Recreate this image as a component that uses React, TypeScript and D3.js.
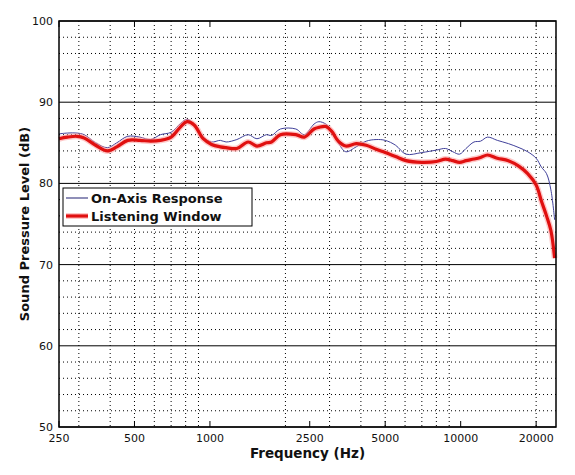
import * as d3 from "d3"

// frequencies (Hz) shared by both curves
const freqs = [
  250, 270, 295, 315, 350, 390, 425, 470, 525, 580, 635, 700, 765, 810, 865, 940,
  1015, 1100, 1160, 1280, 1420, 1540, 1680, 1760, 1910, 2200, 2380, 2600, 2720, 2900,
  3060, 3250, 3480, 3830, 4200, 4600, 5000, 5500, 6050, 7000, 8000, 8700, 9300, 9900,
  10500, 11300, 12000, 12800, 14000, 15500, 17100, 18500, 20000, 21000, 22000, 22900, 23700,
]

const onAxis = [
  86.1, 86.2, 86.2, 86.0, 85.0, 84.4, 85.0, 85.8, 85.7, 85.4, 86.0, 86.3, 87.4, 87.9, 87.3, 85.7,
  85.1, 85.3, 85.1, 85.4, 86.0, 85.5, 86.0, 85.9, 86.7, 86.7, 86.0, 87.3, 87.6, 87.3,
  86.5, 85.0, 83.9, 84.5, 85.2, 85.4, 85.3, 84.7, 83.6, 83.8, 84.1, 84.3, 83.9, 83.6,
  84.3, 85.1, 85.2, 85.7, 85.3, 84.9, 84.4, 83.9, 83.1, 82.0, 81.2, 79.2, 75.5,
]

const listeningWindow = [
  85.5, 85.7, 85.8, 85.6, 84.7, 84.0, 84.5, 85.3, 85.3, 85.2, 85.3, 85.7, 87.0, 87.6, 87.2, 85.5,
  84.8, 84.5, 84.4, 84.3, 85.1, 84.6, 85.0, 85.1, 86.0, 86.0, 85.7, 86.7, 86.9, 87.0,
  86.4, 85.2, 84.6, 84.9, 84.7, 84.2, 83.8, 83.3, 82.8, 82.6, 82.7, 83.0, 82.8, 82.6,
  82.8, 83.0, 83.2, 83.5, 83.1, 82.8, 82.1, 81.2, 79.8, 77.8, 76.0, 74.2, 70.8,
]

const xTickLabels = [250, 500, 1000, 2500, 5000, 10000, 20000]
const xMinorGrid = [300, 400, 500, 600, 700, 800, 900, 2000, 3000, 4000, 5000, 6000, 7000, 8000, 9000, 20000]
const yMajor = [50, 60, 70, 80, 90, 100]
const yMinor = d3.range(52, 100, 2).filter((v) => v % 10 !== 0)

const width = 575
const height = 475
const margin = { top: 21, right: 19, bottom: 48, left: 59 }
const font = "'DejaVu Sans', sans-serif"

export default function App() {
  const x = d3.scaleLog().domain([250, 24000]).range([margin.left, width - margin.right])
  const y = d3.scaleLinear().domain([50, 100]).range([height - margin.bottom, margin.top])

  const line = d3.line<number>()
    .x((_, i) => x(freqs[i]))
    .y((d) => y(d))
    .curve(d3.curveCatmullRom.alpha(0.5))

  const x0 = margin.left
  const x1 = width - margin.right
  const y0 = margin.top
  const y1 = height - margin.bottom

  return (
    <svg width={width} height={height} style={{ position: "absolute", left: 0, top: 0, background: "#fff" }}>
      {/* minor grid */}
      {yMinor.map((v) => (
        <line key={"ym" + v} x1={x0} x2={x1} y1={y(v)} y2={y(v)} stroke="#000" strokeWidth={1} strokeDasharray="1,3" />
      ))}
      {xMinorGrid.map((f) => (
        <line key={"xm" + f} x1={x(f)} x2={x(f)} y1={y0} y2={y1} stroke="#000" strokeWidth={1} strokeDasharray="1,3" />
      ))}
      {/* major horizontal grid */}
      {yMajor.map((v) => (
        <line key={"yM" + v} x1={x0} x2={x1} y1={y(v)} y2={y(v)} stroke="#000" strokeWidth={1} />
      ))}
      {/* x ticks */}
      {xTickLabels.map((f) => (
        <g key={"xt" + f}>
          <line x1={x(f)} x2={x(f)} y1={y1} y2={y1 - 6} stroke="#000" />
          <line x1={x(f)} x2={x(f)} y1={y0} y2={y0 + 6} stroke="#000" />
          <text x={x(f)} y={y1 + 15} textAnchor="middle" fontFamily={font} fontSize={11} fill="#111">{f}</text>
        </g>
      ))}
      {yMajor.map((v) => (
        <text key={"yl" + v} x={x0 - 6} y={y(v) + 4} textAnchor="end" fontFamily={font} fontSize={11} fill="#111">{v}</text>
      ))}

      {/* curves */}
      <path d={line(onAxis) || ""} fill="none" stroke="#40409a" strokeWidth={1} />
      <path d={line(listeningWindow) || ""} fill="none" stroke="#ff9a9a" strokeOpacity={0.55} strokeWidth={6} />
      <path d={line(listeningWindow) || ""} fill="none" stroke="#e01010" strokeWidth={3.2} />

      {/* frame */}
      <rect x={x0} y={y0} width={x1 - x0} height={y1 - y0} fill="none" stroke="#000" strokeWidth={1.5} />

      {/* legend */}
      <g>
        <rect x={63} y={188} width={189} height={38} fill="#fff" stroke="#000" strokeWidth={1} />
        <line x1={66} x2={88} y1={198} y2={198} stroke="#6a6aa0" strokeWidth={1.5} />
        <text x={91} y={202.5} fontFamily={font} fontSize={13} fontWeight="bold" fill="#111">On-Axis Response</text>
        <line x1={66} x2={88} y1={216} y2={216} stroke="#ff9a9a" strokeOpacity={0.55} strokeWidth={6} />
        <line x1={66} x2={88} y1={216} y2={216} stroke="#e01010" strokeWidth={3.2} />
        <text x={91} y={220.5} fontFamily={font} fontSize={13} fontWeight="bold" fill="#111">Listening Window</text>
      </g>

      {/* axis titles */}
      <text x={(x0 + x1) / 2} y={458} textAnchor="middle" fontFamily={font} fontSize={13.5} fontWeight="bold" fill="#111">
        Frequency (Hz)
      </text>
      <text
        transform={`translate(29, ${(y0 + y1) / 2}) rotate(-90)`}
        textAnchor="middle"
        fontFamily={font}
        fontSize={13}
        fontWeight="bold"
        fill="#111"
      >
        Sound Pressure Level (dB)
      </text>
    </svg>
  )
}
